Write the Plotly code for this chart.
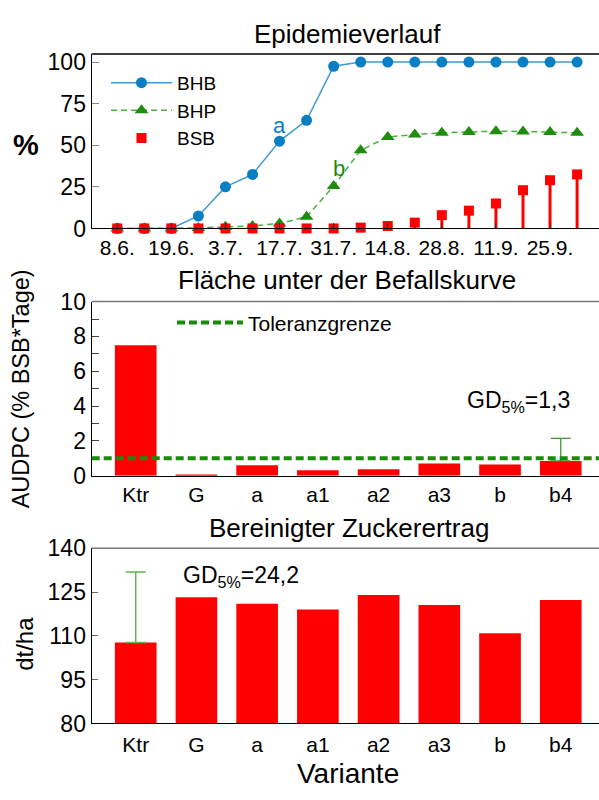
import plotly.graph_objects as go

# ---------------- data ----------------
TERMIN = list(range(18))                      # assessment dates (index)
DATE_LABELS = ["8.6.", "19.6.", "3.7.", "17.7.", "31.7.", "14.8.", "28.8.", "11.9.", "25.9."]
BHB = [0, 0, 0, 7.5, 25, 32.5, 52.5, 65, 97.5, 100, 100, 100, 100, 100, 100, 100, 100, 100]
BHP = [0, 0, 0, 0.3, 1, 1.5, 3, 7, 25.5, 47, 55, 56.5, 57.5, 58, 58.5, 58.3, 58, 57.5]
BSB = [0, 0, 0, 0, 0, 0, 0, 0, 0, 0.5, 1.5, 3.5, 8, 10.7, 15, 23, 29, 32.5]

VARIANTEN = ["Ktr", "G", "a", "a1", "a2", "a3", "b", "b4"]
AUDPC = [7.5, 0.05, 0.6, 0.31, 0.37, 0.70, 0.65, 0.85]
AUDPC_GD = [None, None, None, None, None, None, None, 1.3]
TOLERANZ = 1.0
ERTRAG = [107.7, 123.2, 121.0, 119.0, 124.0, 120.6, 110.9, 122.3]
ERTRAG_GD = [24.2, None, None, None, None, None, None, None]

W, H = 599, 800
def px(x):
    return x / W
def py(y):
    return (H - y) / H

FONT = "Liberation Sans, Arial, sans-serif"
BLUE = "#0a7ec2"
BLUE_L = "#3c9ad6"
GREEN = "#1e8c0e"
GREEN_L = "#4caf3c"
RED = "#ff0000"

def gd_points(cats, vals, gd):
    sel = [i for i, g in enumerate(gd) if g is not None]
    return [cats[i] for i in sel], [vals[i] for i in sel], [gd[i] for i in sel]

fig = go.Figure()

# ---- top panel ----
fig.add_trace(go.Scatter(x=TERMIN, y=BHB, name="BHB", mode="lines+markers",
                         line=dict(color=BLUE_L, width=1.5),
                         marker=dict(symbol="circle", size=11, color=BLUE),
                         xaxis="x", yaxis="y", legend="legend", cliponaxis=False))
fig.add_trace(go.Scatter(x=TERMIN, y=BHP, name="BHP", mode="lines+markers",
                         line=dict(color=GREEN_L, width=1.5, dash="6px,4px"),
                         marker=dict(symbol="triangle-up", size=12, color=GREEN),
                         xaxis="x", yaxis="y", legend="legend", cliponaxis=False))
fig.add_trace(go.Scatter(x=TERMIN, y=BSB, name="BSB", mode="markers",
                         marker=dict(symbol="square", size=10, color=RED),
                         error_y=dict(type="data", symmetric=False, array=[0] * len(BSB),
                                      arrayminus=BSB, width=0, thickness=3, color=RED),
                         xaxis="x", yaxis="y", legend="legend", cliponaxis=False))

# ---- middle panel ----
fig.add_trace(go.Bar(x=VARIANTEN, y=AUDPC, marker=dict(color=RED, line=dict(width=0)),
                     width=0.686, showlegend=False, xaxis="x2", yaxis="y2"))
gx, gy, gv = gd_points(VARIANTEN, AUDPC, AUDPC_GD)
fig.add_trace(go.Scatter(x=gx, y=gy, mode="markers", marker=dict(size=1, opacity=0),
                         error_y=dict(type="data", array=gv, symmetric=False,
                                      arrayminus=[0] * len(gv), width=10, thickness=1.3,
                                      color="#3d9a2f"),
                         showlegend=False, hoverinfo="skip", xaxis="x2", yaxis="y2"))
fig.add_shape(type="line", xref="x2 domain", yref="y2", x0=0, x1=1, y0=TOLERANZ, y1=TOLERANZ,
              line=dict(color="#1a8a0a", width=4, dash="8px,4px"),
              showlegend=True, name="Toleranzgrenze", legend="legend2")

# ---- bottom panel ----
fig.add_trace(go.Bar(x=VARIANTEN, y=ERTRAG, marker=dict(color=RED, line=dict(width=0)),
                     width=0.686, showlegend=False, xaxis="x3", yaxis="y3"))
gx, gy, gv = gd_points(VARIANTEN, ERTRAG, ERTRAG_GD)
fig.add_trace(go.Scatter(x=gx, y=gy, mode="markers", marker=dict(size=1, opacity=0),
                         error_y=dict(type="data", array=gv, symmetric=False,
                                      arrayminus=[0] * len(gv), width=10, thickness=1.5,
                                      color="#5cb848"),
                         showlegend=False, hoverinfo="skip", xaxis="x3", yaxis="y3"))

XDOM = [px(91.7), 1.0]
tickfont = dict(family=FONT, size=23, color="black")
xtickfont = dict(family=FONT, size=21, color="black")

common_x = dict(showline=True, linecolor="black", linewidth=1.3, showgrid=False, zeroline=False,
                tickfont=xtickfont)
common_y = dict(showline=True, linecolor="black", linewidth=1.3, showgrid=False, zeroline=False,
                tickfont=tickfont)

fig.update_layout(
    width=W, height=H, margin=dict(l=0, r=0, t=0, b=0),
    paper_bgcolor="white", plot_bgcolor="white",
    font=dict(family=FONT, color="black"),
    xaxis=dict(domain=XDOM, anchor="y", range=[-0.945, 17.81],
               tickvals=TERMIN[::2], ticktext=DATE_LABELS,
               ticks="inside", ticklen=5, tickcolor="#333", **common_x),
    yaxis=dict(domain=[py(222.7), py(42.5)], anchor="x", range=[0, 104.8],
               tickvals=[0, 25, 50, 75, 100], ticks="inside", ticklen=7, tickcolor="#888",
               **common_y),
    xaxis2=dict(domain=XDOM, anchor="y2", range=[-0.725, 7.63], type="category",
                ticks="", **common_x),
    yaxis2=dict(domain=[py(478.3), py(298.3)], anchor="x2", range=[0, 10],
                tickvals=[0, 2, 4, 6, 8, 10], ticks="inside", ticklen=7, tickcolor="#444",
                minor=dict(dtick=1, ticks="inside", ticklen=7, tickcolor="#444"),
                **common_y),
    xaxis3=dict(domain=XDOM, anchor="y3", range=[-0.725, 7.63], type="category",
                ticks="", ticklabelstandoff=2, **common_x),
    yaxis3=dict(domain=[py(734.3), py(553.3)], anchor="x3", range=[80, 140],
                tickvals=[80, 95, 110, 125, 140], ticks="inside", ticklen=6, tickcolor="#666",
                **common_y),
    legend=dict(x=px(106), y=py(52.5), xanchor="left", yanchor="top",
                font=dict(family=FONT, size=19), bgcolor="rgba(0,0,0,0)",
                tracegroupgap=0, itemwidth=61),
    legend2=dict(x=px(172), y=py(299), xanchor="left", yanchor="top",
                 font=dict(family=FONT, size=21), bgcolor="rgba(0,0,0,0)", itemwidth=66),
)

# top borders
fig.add_shape(type="line", xref="x domain", yref="y domain", x0=0, x1=1, y0=1, y1=1,
              line=dict(color="black", width=1.5))
fig.add_shape(type="line", xref="x2 domain", yref="y2 domain", x0=0, x1=1, y0=1, y1=1,
              line=dict(color="#777", width=1.5))
fig.add_shape(type="line", xref="x3 domain", yref="y3 domain", x0=0, x1=1, y0=1, y1=1,
              line=dict(color="#777", width=1.5))

ann = []
def A(text, x, y, size, color="black", xanchor="center", yanchor="middle", angle=0, bold=False):
    if bold:
        text = "<b>" + text + "</b>"
    ann.append(dict(text=text, x=px(x), y=py(y), xref="paper", yref="paper", showarrow=False,
                    xanchor=xanchor, yanchor=yanchor, textangle=angle,
                    font=dict(family=FONT, size=size, color=color)))

A("Epidemieverlauf", 347, 21.5, 26)
A("Fläche unter der Befallskurve", 347, 276, 26)
A("Bereinigter Zuckerertrag", 349, 532, 26)
A("%", 26, 136, 29, bold=True)
A("AUDPC (% BSB*Tage)", 21, 389, 23.5, angle=-90)
A("dt/ha", 25, 652, 24, angle=-90)
A("Variante", 348, 786.5, 28)
A("a", 279.5, 116.5, 22, color=BLUE)
A("b", 339, 160.5, 22, color=GREEN)
A("GD<sub>5%</sub>=1,3", 465, 402, 23, xanchor="left")
A("GD<sub>5%</sub>=24,2", 181, 582, 23, xanchor="left")
fig.update_layout(annotations=ann)

fig.write_html("out.html")
